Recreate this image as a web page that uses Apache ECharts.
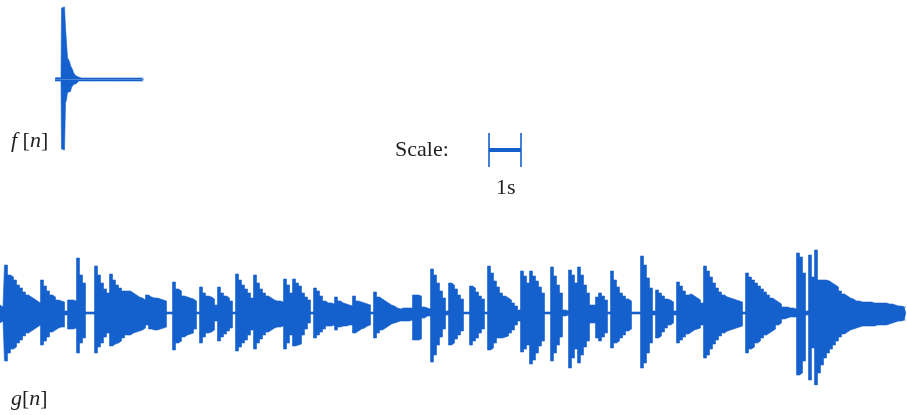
<!DOCTYPE html>
<html><head><meta charset="utf-8">
<script src="https://cdn.jsdelivr.net/npm/echarts@6/dist/echarts.min.js"></script>
<style>html,body{margin:0;padding:0;background:#fff}#c{width:907px;height:415px}</style>
</head><body><div id="c"></div>
<script>
// f[n]: impulse response envelope (upper / lower amplitude per sample column)
const fUp = [1.5,1.5,2,2,2,1.5,1.5,72,73,73,72,52,50,22,20,18,14,12,10,7,5,4,3,2.5,
  1.5,1.5,1.5,1.5,1.5,1.5,1.5,1.5,1.5,1.5,1.5,1.5,1.5,1.5,1.5,1.5,1.5,1.5,1.5,1.5,1.5,1.5,1.5,1.5,1.5,1.5,
  1.5,1.5,1.5,1.5,1.5,1.5,1.5,1.5,1.5,1.5,1.5,1.5,1.5,1.5,1.5,1.5,1.5,1.5,1.5,1.5,1.5,1.5,1.5,1.5,1.5,1.5,
  1.5,1.5,1.5,1.5,1.5,1.5,1.5,1.5,1.5,1.5,1.5,1.5,1.5,1.5];
const fDn = [1.5,1.5,1.5,1.5,1.5,1.5,1.5,70,71,71,70,24,20,13,12,12,10,8,7,5,4,4,3,2.5,
  1.5,1.5,1.5,1.5,1.5,1.5,1.5,1.5,1.5,1.5,1.5,1.5,1.5,1.5,1.5,1.5,1.5,1.5,1.5,1.5,1.5,1.5,1.5,1.5,1.5,1.5,
  1.5,1.5,1.5,1.5,1.5,1.5,1.5,1.5,1.5,1.5,1.5,1.5,1.5,1.5,1.5,1.5,1.5,1.5,1.5,1.5,1.5,1.5,1.5,1.5,1.5,1.5,
  1.5,1.5,1.5,1.5,1.5,1.5,1.5,1.5,1.5,1.5,1.5,1.5,1.5,1.5];

// g[n]: signal envelope (upper / lower amplitude per column)
const gUp = [8,6,48,38,36,33,28,25,21,18,16,14,12,10,33,27,22,18,16,13,12,11,2,13,13,12,55,38,30,1,
  1,1,47,38,30,24,20,39,33,28,25,22,22,22,20,18,16,15,13,18,16,15,15,14,13,12,1,1,31,24,
  22,17,16,15,14,12,1,26,20,17,16,14,8,26,20,17,15,12,1,39,33,28,24,20,15,38,30,24,20,17,
  15,13,12,12,11,34,28,20,34,30,27,20,16,13,1,25,22,17,12,10,10,9,16,12,10,9,8,7,17,12,
  11,10,9,8,1,21,16,14,12,10,8,7,5,4,5,5,5,5,18,18,17,6,5,4,44,38,30,22,15,2,30,28,
  24,18,14,1,1,27,25,21,17,14,1,47,40,32,26,20,17,15,13,10,7,3,42,37,30,42,37,32,26,20,
  1,1,46,37,28,20,3,2,43,38,30,46,38,28,20,8,8,16,20,17,13,1,42,33,26,20,17,14,12,1,
  1,1,57,48,35,25,2,23,20,17,14,13,11,2,31,27,22,18,19,17,15,13,10,47,42,36,30,25,21,18,
  16,15,14,13,12,11,1,40,36,33,30,27,24,21,18,15,13,11,9,6,6,5,5,4,60,56,40,2,58,36,
  63,33,33,33,32,30,28,26,22,19,17,15,14,12,12,11,11,11,11,10,10,10,10,10,9,9,8,7,7,6,6];
const gDn = [10,8,48,40,36,34,30,27,23,20,18,16,14,12,32,28,24,19,17,15,14,14,2,16,16,15,40,30,25,1,
  1,1,40,34,30,24,20,33,31,30,28,25,22,22,20,19,18,17,15,12,16,17,17,16,15,14,1,1,37,30,
  28,24,22,21,20,16,1,30,24,20,19,17,8,28,24,21,18,15,1,38,34,30,27,22,17,36,30,26,22,19,
  17,15,14,14,13,36,30,22,33,32,31,22,16,10,1,25,22,19,16,13,13,12,17,14,13,13,12,12,20,18,
  16,15,13,12,1,25,20,17,15,13,11,10,9,8,8,8,8,7,27,27,26,5,3,3,49,42,32,24,16,2,32,30,
  26,22,18,1,1,32,28,25,20,16,1,37,35,30,25,25,24,23,20,17,12,8,39,36,32,51,47,40,33,28,
  1,1,48,40,32,24,3,2,55,45,36,50,42,34,28,10,10,25,28,24,20,1,35,30,28,25,22,18,16,1,
  1,1,55,50,40,30,2,25,23,19,15,12,10,2,30,27,24,21,19,17,16,15,12,45,42,36,31,27,23,20,
  18,17,16,15,14,13,1,40,36,34,30,28,25,22,20,18,16,12,10,6,5,4,4,4,62,60,48,2,67,35,
  72,60,52,45,40,36,32,28,24,21,19,17,16,15,14,13,13,13,13,13,12,12,12,12,11,10,9,8,8,7,7];

const fIdx = fUp.map((_, i) => i);
const gIdx = gUp.map((_, i) => i);
const fNeg = fDn.map(v => -v);
const gNeg = gDn.map(v => -v);

const BLUE = '#1460cc';
const TXT = '#231f20';
const SERIF = '"Liberation Serif","DejaVu Serif",serif';

function wave(name, xi, yi, data) {
  return {
    name, type: 'line', xAxisIndex: xi, yAxisIndex: yi, data,
    step: 'middle', symbol: 'none', silent: true,
    lineStyle: { width: 0.6, color: BLUE },
    areaStyle: { color: BLUE, opacity: 1 }
  };
}

const chart = echarts.init(document.getElementById('c'), null, { renderer: 'canvas' });
chart.setOption({
  animation: false,
  backgroundColor: '#fff',
  grid: [
    { left: 55, top: 0, width: 89, height: 159 },
    { left: 0, top: 241, width: 906, height: 144 }
  ],
  xAxis: [
    { gridIndex: 0, type: 'category', data: fIdx, boundaryGap: false, show: false },
    { gridIndex: 1, type: 'category', data: gIdx, boundaryGap: false, show: false }
  ],
  yAxis: [
    { gridIndex: 0, type: 'value', min: -80, max: 80, show: false },
    { gridIndex: 1, type: 'value', min: -72, max: 72, show: false }
  ],
  series: [
    wave('fUp', 0, 0, fUp), wave('fDn', 0, 0, fNeg),
    wave('gUp', 1, 1, gUp), wave('gDn', 1, 1, gNeg)
  ],
  graphic: [
    { type: 'text', left: 11, top: 130, style: {
        text: '{i|f} [{i|n}]', fill: TXT, font: '22px ' + SERIF,
        rich: { i: { fontStyle: 'italic', fontSize: 22, fontFamily: SERIF, fill: TXT } } } },
    { type: 'text', left: 11, top: 388, style: {
        text: '{i|g}[{i|n}]', fill: TXT, font: '22px ' + SERIF,
        rich: { i: { fontStyle: 'italic', fontSize: 22, fontFamily: SERIF, fill: TXT } } } },
    { type: 'text', left: 395, top: 139, style: { text: 'Scale:', fill: TXT, font: '22px ' + SERIF } },
    { type: 'text', left: 496, top: 177, style: { text: '1s', fill: TXT, font: '22px ' + SERIF } },
    { type: 'line', shape: { x1: 489, y1: 133, x2: 489, y2: 167 }, style: { stroke: BLUE, lineWidth: 1.6 } },
    { type: 'line', shape: { x1: 521, y1: 133, x2: 521, y2: 167 }, style: { stroke: BLUE, lineWidth: 1.6 } },
    { type: 'rect', shape: { x: 489, y: 148, width: 32, height: 4 }, style: { fill: BLUE } }
  ]
});
</script></body></html>
